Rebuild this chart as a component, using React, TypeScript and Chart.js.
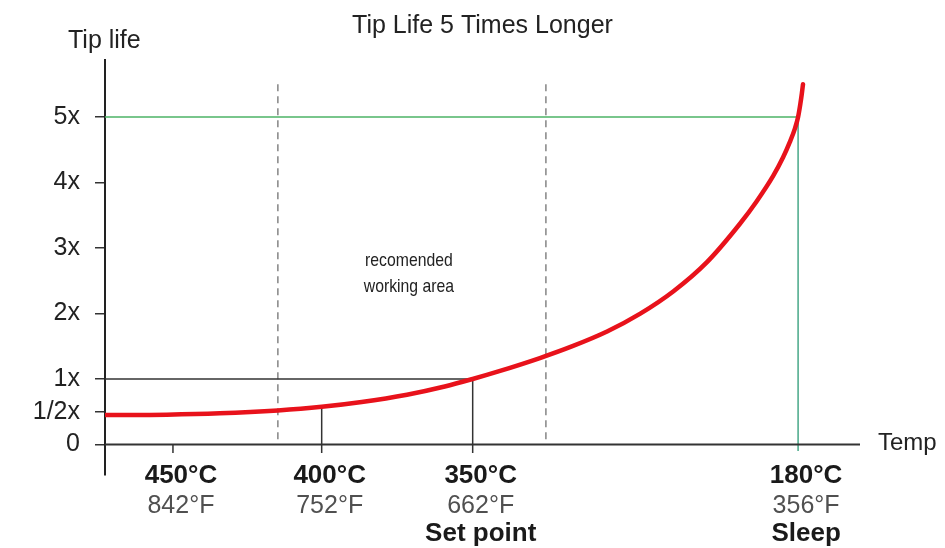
import React, { useEffect, useRef } from "react";
import { Chart, registerables } from "chart.js";

Chart.register(...registerables);

const TITLE = "Tip Life 5 Times Longer";
const Y_TITLE = "Tip life";
const X_TITLE = "Temp";

// Red curve: position along the temperature axis (0 = axis start, 100 = axis end) vs tip-life multiple
const curvePos = [0, 8.2, 15.2, 22.9, 28.7, 34.0, 40.0, 45.0, 48.7, 52.0, 57.6, 62.0, 66.5, 70.9, 75.3, 79.7, 84.1, 86.3, 88.5, 89.8, 90.7, 91.4, 91.8, 92.1, 92.3, 92.45];
const curveLife = [0.45, 0.455, 0.475, 0.52, 0.575, 0.648, 0.76, 0.885, 1.0, 1.112, 1.32, 1.505, 1.725, 1.998, 2.34, 2.78, 3.37, 3.71, 4.1, 4.38, 4.615, 4.83, 5.0, 5.2, 5.36, 5.5];

// Y axis ticks
const yTickValues = [0, 0.5, 1, 2, 3, 4, 5];
const yTickLabels = ["0", "1/2x", "1x", "2x", "3x", "4x", "5x"];

// Temperature markers
const tempPos = [9.0, 28.7, 48.7, 91.8];
const tempC = ["450°C", "400°C", "350°C", "180°C"];
const tempF = ["842°F", "752°F", "662°F", "356°F"];
const tempNote = ["", "", "Set point", "Sleep"];
const tempLife = [0, 0.575, 1, 5];
const tickBelow = -0.13;

// Reference lines
const setPointLife = 1;
const setPointPos = 48.7;
const sleepLife = 5;
const sleepPos = 91.8;

// Recommended working area
const workingArea = [22.9, 58.4];
const workingTop = 5.5;
const workingLabel = ["recomended", "working area"];

const FONT = '"Liberation Sans", Arial, Helvetica, sans-serif';

function segs(pairs: { x: number; y0: number; y1: number }[]) {
  const out: any[] = [];
  pairs.forEach((p) => {
    out.push({ x: p.x, y: p.y0 });
    out.push({ x: p.x, y: p.y1 });
    out.push({ x: p.x, y: null });
  });
  return out;
}

const textPlugin = {
  id: "texts",
  afterDraw(chart: any) {
    const { ctx, chartArea } = chart;
    const xs = chart.scales.x;
    const ys = chart.scales.y;
    const y0 = ys.getPixelForValue(0);
    ctx.save();
    ctx.textBaseline = "middle";
    ctx.fillStyle = "#222";
    ctx.font = `25px ${FONT}`;
    ctx.textAlign = "center";
    ctx.fillText(TITLE, (chartArea.left + chartArea.right) / 2, 26);
    ctx.textAlign = "left";
    ctx.fillText(Y_TITLE, chartArea.left - 37, 41);
    ctx.font = `24px ${FONT}`;
    ctx.fillText(X_TITLE, chartArea.right + 18, y0 - 1);

    ctx.textAlign = "center";
    tempPos.forEach((p, i) => {
      const x = xs.getPixelForValue(p) + 8;
      ctx.fillStyle = "#1a1a1a";
      ctx.font = `bold 26px ${FONT}`;
      ctx.fillText(tempC[i], x, y0 + 31.5);
      ctx.fillStyle = "#505050";
      ctx.font = `25px ${FONT}`;
      ctx.fillText(tempF[i], x, y0 + 61.5);
      if (tempNote[i]) {
        ctx.fillStyle = "#1a1a1a";
        ctx.font = `bold 26px ${FONT}`;
        ctx.fillText(tempNote[i], x, y0 + 89);
      }
    });

    // condensed annotation text
    ctx.fillStyle = "#222";
    ctx.font = `19px ${FONT}`;
    const wx = xs.getPixelForValue((workingArea[0] + workingArea[1]) / 2) - 3;
    const wy = ys.getPixelForValue(2.8);
    const sx = 0.83;
    workingLabel.forEach((t, i) => {
      ctx.save();
      ctx.translate(wx, wy + i * 26);
      ctx.scale(sx, 1);
      ctx.fillText(t, 0, 0);
      ctx.restore();
    });
    ctx.restore();
  },
};

export default function App() {
  const ref = useRef<HTMLCanvasElement | null>(null);
  useEffect(() => {
    if (!ref.current) return;
    const chart = new Chart(ref.current, {
      type: "line",
      data: {
        datasets: [
          {
            label: "Tip life",
            data: curvePos.map((x, i) => ({ x, y: curveLife[i] })),
            borderColor: "#e8121b",
            borderWidth: 4.5,
            borderCapStyle: "round",
            pointRadius: 0,
            cubicInterpolationMode: "monotone",
            order: 0,
          },
          {
            label: "x axis",
            data: [
              { x: 0, y: 0 },
              { x: 100, y: 0 },
            ],
            borderColor: "#333",
            borderWidth: 2,
            pointRadius: 0,
            order: 1,
          },
          {
            label: "set point",
            data: [
              { x: 0, y: setPointLife },
              { x: setPointPos, y: setPointLife },
            ],
            borderColor: "#333",
            borderWidth: 1.5,
            pointRadius: 0,
            order: 2,
          },
          {
            label: "sleep",
            data: [
              { x: 0, y: sleepLife },
              { x: sleepPos, y: sleepLife },
            ],
            borderColor: "#4db366",
            borderWidth: 1.5,
            pointRadius: 0,
            order: 3,
          },
          {
            label: "markers",
            data: segs(
              tempPos.slice(0, 3).map((x, i) => ({ x, y0: tempLife[i], y1: tickBelow }))
            ),
            borderColor: "#333",
            borderWidth: 1.5,
            pointRadius: 0,
            spanGaps: false,
            order: 4,
          },
          {
            label: "sleep marker",
            data: [
              { x: tempPos[3], y: tempLife[3] },
              { x: tempPos[3], y: tickBelow + 0.03 },
            ],
            borderColor: "#48a888",
            borderWidth: 1.5,
            pointRadius: 0,
            order: 5,
          },
          {
            label: "working area",
            data: segs(workingArea.map((x) => ({ x, y0: workingTop, y1: 0 }))),
            borderColor: "#666",
            borderWidth: 1.2,
            borderDash: [7, 5],
            pointRadius: 0,
            spanGaps: false,
            order: 6,
          },
        ],
      },
      options: {
        animation: false,
        responsive: false,
        layout: { padding: { top: 60, bottom: 73, right: 85, left: 0 } },
        plugins: { legend: { display: false }, tooltip: { enabled: false }, title: { display: false } },
        scales: {
          x: { type: "linear", min: 0, max: 100, display: false },
          y: {
            type: "linear",
            min: -0.466,
            max: 5.87,
            afterBuildTicks: (s: any) => {
              s.ticks = yTickValues.map((v) => ({ value: v }));
            },
            afterFit: (s: any) => {
              s.width = 105;
            },
            ticks: {
              autoSkip: false,
              padding: 15,
              color: "#222",
              font: { family: FONT, size: 25 },
              callback: (v: any) => {
                const i = yTickValues.indexOf(Number(v));
                return i >= 0 ? yTickLabels[i] : "";
              },
            },
            grid: { drawOnChartArea: false, drawTicks: true, tickLength: 10, color: "#333", lineWidth: 1.5 },
            border: { display: true, color: "#222", width: 2 },
          },
        },
      },
      plugins: [textPlugin],
    } as any);
    return () => chart.destroy();
  }, []);
  return (
    <div style={{ position: "fixed", left: 0, top: 0, width: 945, height: 548, background: "#fff" }}>
      <canvas ref={ref} width={945} height={548} style={{ display: "block" }} />
    </div>
  );
}
